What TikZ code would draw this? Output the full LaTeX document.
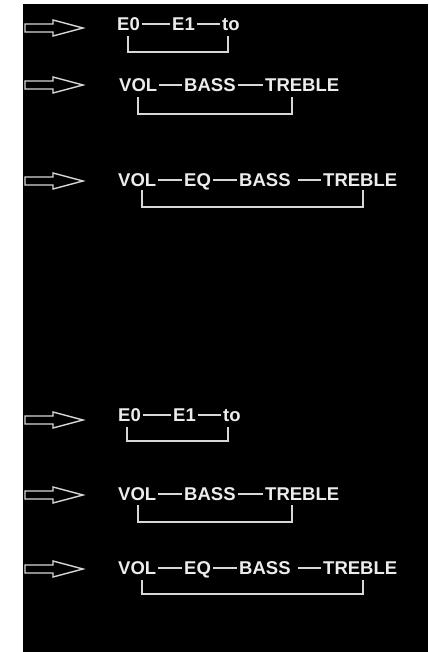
\documentclass[tikz,border=0pt]{standalone}
\usepackage{fontspec}
\setmainfont{Liberation Sans}
\definecolor{txt}{RGB}{236,236,236}
\definecolor{ln}{RGB}{215,215,215}
\begin{document}
\begin{tikzpicture}[x=1pt,y=-1pt,
  word/.style={text=txt, font=\fontsize{18.5}{18.5}\selectfont\bfseries, inner sep=0pt, text height=13.2pt, text depth=0pt, anchor=west},
  link/.style={draw=ln, line width=1.4pt, shorten <=2pt, shorten >=2pt},
  brk/.style={draw=ln, line width=1.4pt},
  hollowarrow/.pic={\draw[draw=ln, line width=1.4pt, line join=miter] (0,-4) -- (28,-4) -- (28,-8) -- (58,0) -- (28,8) -- (28,4) -- (0,4) -- cycle;}]
\useasboundingbox (0,0) rectangle (428,652);
\fill[white] (0,0) rectangle (428,652);
\fill[black] (23,4) rectangle (428,652);

% arrows
\pic at (25,28) {hollowarrow};
\pic at (25,85) {hollowarrow};
\pic at (25,181) {hollowarrow};
\pic at (25,420) {hollowarrow};
\pic at (25,495) {hollowarrow};
\pic at (25,569) {hollowarrow};

% row 1
\node[word] (a1) at (117,24) {E0};
\node[word] (b1) at (172,24) {E1};
\node[word] (c1) at (222,24) {to};
\draw[link] (a1.east) -- (b1.west);
\draw[link] (b1.east) -- (c1.west);
\coordinate (k1a) at (128,36); \coordinate (k1c) at (128,52); \coordinate (k1b) at (228,36);
\draw[brk] (k1a) -- (k1c) -| (k1b);

% row 2
\node[word] (a2) at (119,85) {VOL};
\node[word] (b2) at (184,85) {BASS};
\node[word] (c2) at (265,85) {TREBLE};
\draw[link] (a2.east) -- (b2.west);
\draw[link] (b2.east) -- (c2.west);
\coordinate (k2a) at (138,97); \coordinate (k2c) at (138,114); \coordinate (k2b) at (292,97);
\draw[brk] (k2a) -- (k2c) -| (k2b);

% row 3
\node[word] (a3) at (118,180) {VOL};
\node[word] (b3) at (184,180) {EQ};
\node[word] (c3) at (239,180) {BASS};
\node[word] (d3) at (323,180) {TREBLE};
\draw[link] (a3.east) -- (b3.west);
\draw[link] (b3.east) -- (c3.west);
\draw[link, shorten <=7pt] (c3.east) -- (d3.west);
\coordinate (k3a) at (142,190); \coordinate (k3c) at (142,207); \coordinate (k3b) at (363,190);
\draw[brk] (k3a) -- (k3c) -| (k3b);

% row 4
\node[word] (a4) at (118,415) {E0};
\node[word] (b4) at (173,415) {E1};
\node[word] (c4) at (223,415) {to};
\draw[link] (a4.east) -- (b4.west);
\draw[link] (b4.east) -- (c4.west);
\coordinate (k4a) at (127,427); \coordinate (k4c) at (127,441); \coordinate (k4b) at (228,427);
\draw[brk] (k4a) -- (k4c) -| (k4b);

% row 5
\node[word] (a5) at (118,494) {VOL};
\node[word] (b5) at (184,494) {BASS};
\node[word] (c5) at (265,494) {TREBLE};
\draw[link] (a5.east) -- (b5.west);
\draw[link] (b5.east) -- (c5.west);
\coordinate (k5a) at (138,505); \coordinate (k5c) at (138,522); \coordinate (k5b) at (292,505);
\draw[brk] (k5a) -- (k5c) -| (k5b);

% row 6
\node[word] (a6) at (118,568) {VOL};
\node[word] (b6) at (184,568) {EQ};
\node[word] (c6) at (239,568) {BASS};
\node[word] (d6) at (323,568) {TREBLE};
\draw[link] (a6.east) -- (b6.west);
\draw[link] (b6.east) -- (c6.west);
\draw[link, shorten <=7pt] (c6.east) -- (d6.west);
\coordinate (k6a) at (142,580); \coordinate (k6c) at (142,594); \coordinate (k6b) at (363,580);
\draw[brk] (k6a) -- (k6c) -| (k6b);
\end{tikzpicture}
\end{document}
